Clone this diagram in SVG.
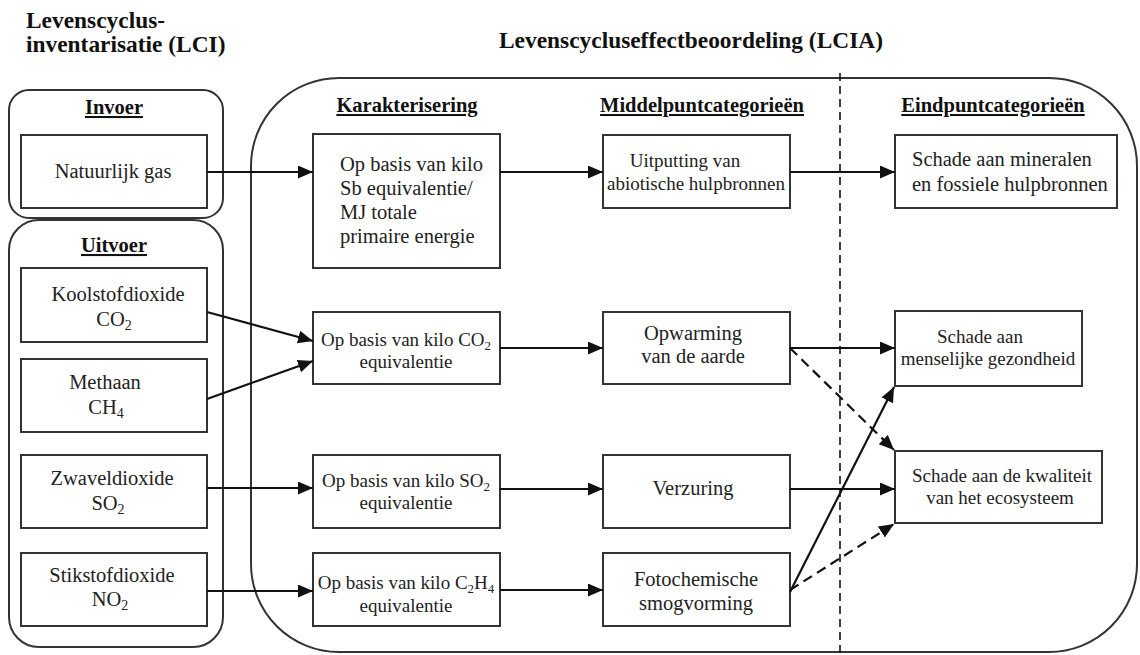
<svg xmlns="http://www.w3.org/2000/svg" width="1140" height="655" viewBox="0 0 1140 655" font-family="'Liberation Serif', 'DejaVu Serif', 'Times New Roman', serif">
  <style>
    text { font-family: 'Liberation Serif', 'DejaVu Serif', 'Times New Roman', serif; }
    .title { font-weight: bold; font-size: 23.4px; fill: #111; }
    .head { font-weight: bold; font-size: 20.5px; fill: #111; text-decoration: underline; text-anchor: middle; }
    .txt { font-size: 20.5px; fill: #222; text-anchor: middle; }
    .sm { font-size: 19px; }
    .left { text-anchor: start; }
    .box { fill: #fff; stroke: #333; stroke-width: 2; }
    .group { fill: none; stroke: #333; stroke-width: 2; }
    .arrow { fill: none; stroke: #111; stroke-width: 2.2; marker-end: url(#head); }
    .dash { stroke-dasharray: 10 6; }
    .divider { stroke: #111; stroke-width: 1.6; stroke-dasharray: 8 5; }
  </style>
  <defs>
    <marker id="head" markerUnits="userSpaceOnUse" markerWidth="16" markerHeight="14" refX="15" refY="6.5" orient="auto">
      <path d="M0,0 L15,6.5 L0,13 z" fill="#111"/>
    </marker>
  </defs>

  <rect width="1140" height="655" fill="#fff"/>

  <!-- section titles -->
  <g id="titles">
    <text class="title" x="26" y="28">Levenscyclus-</text>
    <text class="title" x="26" y="52">inventarisatie (LCI)</text>
    <text class="title" x="499" y="48">Levenscycluseffectbeoordeling (LCIA)</text>
  </g>

  <!-- containers -->
  <g id="lci-input">
    <rect class="group" x="9" y="90" width="214" height="128" rx="20"/>
    <text class="head" x="114" y="114">Invoer</text>
  </g>
  <g id="lci-output">
    <rect class="group" x="9" y="220" width="214" height="427" rx="30"/>
    <text class="head" x="114" y="252">Uitvoer</text>
  </g>
  <g id="lcia">
    <rect class="group" x="251" y="78" width="886" height="574" rx="88"/>
    <text class="head" x="407" y="112">Karakterisering</text>
    <text class="head" x="702" y="112">Middelpuntcategorieën</text>
    <text class="head" x="993" y="112">Eindpuntcategorieën</text>
  </g>
  <line class="divider" x1="840" y1="73" x2="840" y2="655"/>

  <!-- inventory nodes -->
  <g id="natuurlijk-gas">
    <rect class="box" x="21" y="135" width="186" height="73"/>
    <text class="txt" x="113" y="178">Natuurlijk gas</text>
  </g>
  <g id="koolstofdioxide">
    <rect class="box" x="21" y="268" width="186" height="74"/>
    <text class="txt" x="118" y="301">Koolstofdioxide</text>
    <text class="txt" x="114" y="326">CO<tspan font-size="14" dy="4">2</tspan></text>
  </g>
  <g id="methaan">
    <rect class="box" x="21" y="359" width="186" height="73"/>
    <text class="txt" x="105" y="389">Methaan</text>
    <text class="txt" x="106" y="414">CH<tspan font-size="14" dy="4">4</tspan></text>
  </g>
  <g id="zwaveldioxide">
    <rect class="box" x="21" y="455" width="186" height="73"/>
    <text class="txt" x="112" y="485">Zwaveldioxide</text>
    <text class="txt" x="108" y="510">SO<tspan font-size="14" dy="4">2</tspan></text>
  </g>
  <g id="stikstofdioxide">
    <rect class="box" x="21" y="553" width="186" height="73"/>
    <text class="txt" x="112" y="582">Stikstofdioxide</text>
    <text class="txt" x="110" y="606">NO<tspan font-size="14" dy="4">2</tspan></text>
  </g>

  <!-- characterisation nodes -->
  <g id="kar-sb">
    <rect class="box" x="313" y="134" width="187" height="134"/>
    <text class="txt left" x="340" y="171">Op basis van kilo</text>
    <text class="txt left" x="340" y="195">Sb equivalentie/</text>
    <text class="txt left" x="340" y="219">MJ totale</text>
    <text class="txt left" x="340" y="243">primaire energie</text>
  </g>
  <g id="kar-co2">
    <rect class="box" x="313" y="312" width="187" height="72"/>
    <text class="txt sm" x="406" y="346">Op basis van kilo CO<tspan font-size="13" dy="4">2</tspan></text>
    <text class="txt sm" x="406" y="368">equivalentie</text>
  </g>
  <g id="kar-so2">
    <rect class="box" x="313" y="455" width="187" height="73"/>
    <text class="txt sm" x="406" y="487">Op basis van kilo SO<tspan font-size="13" dy="4">2</tspan></text>
    <text class="txt sm" x="406" y="509">equivalentie</text>
  </g>
  <g id="kar-c2h4">
    <rect class="box" x="313" y="553" width="187" height="73"/>
    <text class="txt sm" x="406" y="589">Op basis van kilo C<tspan font-size="13" dy="4">2</tspan><tspan dy="-4">H</tspan><tspan font-size="13" dy="4">4</tspan></text>
    <text class="txt sm" x="406" y="612">equivalentie</text>
  </g>

  <!-- midpoint nodes -->
  <g id="uitputting">
    <rect class="box" x="603" y="135" width="187" height="73"/>
    <text class="txt sm" x="685" y="167">Uitputting van</text>
    <text class="txt sm" x="696" y="190">abiotische hulpbronnen</text>
  </g>
  <g id="opwarming">
    <rect class="box" x="603" y="312" width="187" height="72"/>
    <text class="txt" x="693" y="340">Opwarming</text>
    <text class="txt" x="693" y="363">van de aarde</text>
  </g>
  <g id="verzuring">
    <rect class="box" x="603" y="455" width="187" height="73"/>
    <text class="txt" x="693" y="495">Verzuring</text>
  </g>
  <g id="smogvorming">
    <rect class="box" x="603" y="553" width="187" height="73"/>
    <text class="txt" x="696" y="586">Fotochemische</text>
    <text class="txt" x="696" y="610">smogvorming</text>
  </g>

  <!-- endpoint nodes -->
  <g id="schade-mineralen">
    <rect class="box" x="895" y="135" width="222" height="73"/>
    <text class="txt left" x="912" y="166">Schade aan mineralen</text>
    <text class="txt left" x="912" y="191">en fossiele hulpbronnen</text>
  </g>
  <g id="schade-gezondheid">
    <rect class="box" x="895" y="311" width="187" height="75"/>
    <text class="txt sm" x="980" y="343">Schade aan</text>
    <text class="txt sm" x="988" y="365">menselijke gezondheid</text>
  </g>
  <g id="schade-ecosysteem">
    <rect class="box" x="895" y="451" width="207" height="72"/>
    <text class="txt sm" x="1002" y="482">Schade aan de kwaliteit</text>
    <text class="txt sm" x="1000" y="504">van het ecosysteem</text>
  </g>

  <!-- connectors -->
  <g id="connectors">
    <path class="arrow" d="M207,172 L313,172"/>
    <path class="arrow" d="M500,172 L603,172"/>
    <path class="arrow" d="M790,172 L895,172"/>
    <path class="arrow" d="M207,312 L313,341"/>
    <path class="arrow" d="M207,399 L313,361"/>
    <path class="arrow" d="M207,488 L313,488"/>
    <path class="arrow" d="M207,591 L313,591"/>
    <path class="arrow" d="M500,348 L603,348"/>
    <path class="arrow" d="M500,489 L603,489"/>
    <path class="arrow" d="M500,590 L603,590"/>
    <path class="arrow" d="M790,348 L895,348"/>
    <path class="arrow dash" d="M790,348 L894,450"/>
    <path class="arrow" d="M790,489 L895,489"/>
    <path class="arrow" d="M790,592 L894,387"/>
    <path class="arrow dash" d="M790,590 L894,524"/>
  </g>
</svg>
